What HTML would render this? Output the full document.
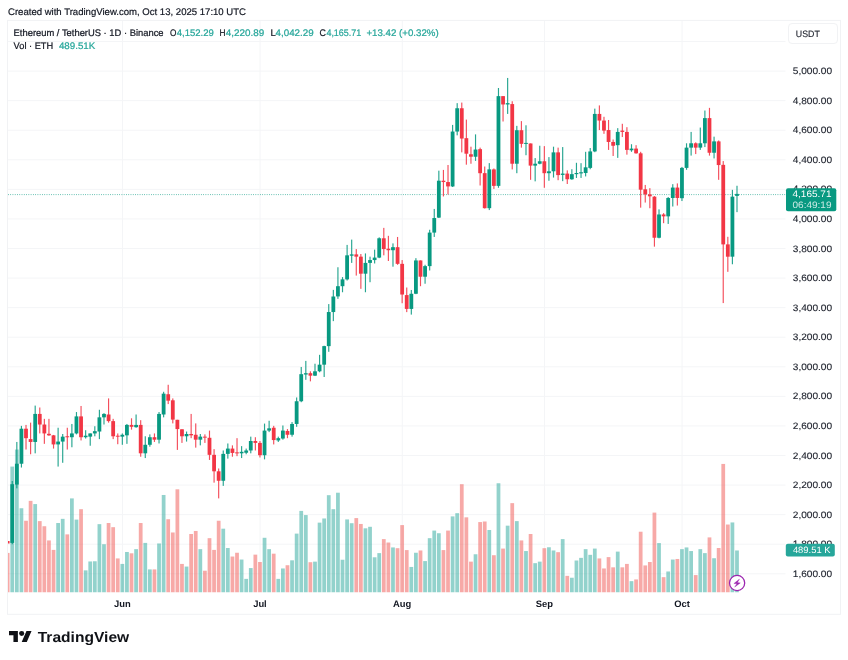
<!DOCTYPE html>
<html lang="en"><head><meta charset="utf-8"><title>ETHUSDT chart</title>
<style>html,body{margin:0;padding:0;background:#fff}body{width:848px;height:660px;overflow:hidden}svg{display:block;will-change:transform;opacity:0.9999}text{text-rendering:geometricPrecision}text{font-family:"Liberation Sans",Arial,sans-serif}</style></head><body>
<svg width="848" height="660" viewBox="0 0 848 660">
<rect width="848" height="660" fill="#fff"/>
<defs><clipPath id="pane"><rect x="8" y="21" width="777.5" height="571.5"/></clipPath></defs>
<rect x="7.5" y="20.4" width="833" height="593.9" fill="none" stroke="#f1f2f4" stroke-width="1"/>
<g stroke="#f4f5f7" stroke-width="1">
<line x1="8" x2="785.5" y1="41.53" y2="41.53"/>
<line x1="8" x2="785.5" y1="71.10" y2="71.10"/>
<line x1="8" x2="785.5" y1="100.67" y2="100.67"/>
<line x1="8" x2="785.5" y1="130.24" y2="130.24"/>
<line x1="8" x2="785.5" y1="159.81" y2="159.81"/>
<line x1="8" x2="785.5" y1="189.38" y2="189.38"/>
<line x1="8" x2="785.5" y1="218.95" y2="218.95"/>
<line x1="8" x2="785.5" y1="248.52" y2="248.52"/>
<line x1="8" x2="785.5" y1="278.09" y2="278.09"/>
<line x1="8" x2="785.5" y1="307.66" y2="307.66"/>
<line x1="8" x2="785.5" y1="337.23" y2="337.23"/>
<line x1="8" x2="785.5" y1="366.80" y2="366.80"/>
<line x1="8" x2="785.5" y1="396.37" y2="396.37"/>
<line x1="8" x2="785.5" y1="425.94" y2="425.94"/>
<line x1="8" x2="785.5" y1="455.51" y2="455.51"/>
<line x1="8" x2="785.5" y1="485.08" y2="485.08"/>
<line x1="8" x2="785.5" y1="514.65" y2="514.65"/>
<line x1="8" x2="785.5" y1="544.22" y2="544.22"/>
<line x1="8" x2="785.5" y1="573.79" y2="573.79"/>
<line x1="122.44" x2="122.44" y1="21" y2="592"/>
<line x1="260.05" x2="260.05" y1="21" y2="592"/>
<line x1="402.25" x2="402.25" y1="21" y2="592"/>
<line x1="544.44" x2="544.44" y1="21" y2="592"/>
<line x1="682.05" x2="682.05" y1="21" y2="592"/>
</g>
<g clip-path="url(#pane)">
<rect x="5.79" y="552.93" width="3.75" height="39.57" fill="#ef5350" fill-opacity="0.5"/>
<rect x="10.38" y="466.59" width="3.75" height="125.91" fill="#26a69a" fill-opacity="0.5"/>
<rect x="14.96" y="449.55" width="3.75" height="142.95" fill="#26a69a" fill-opacity="0.5"/>
<rect x="19.55" y="508.25" width="3.75" height="84.25" fill="#26a69a" fill-opacity="0.5"/>
<rect x="24.14" y="520.75" width="3.75" height="71.75" fill="#ef5350" fill-opacity="0.5"/>
<rect x="28.72" y="500.86" width="3.75" height="91.64" fill="#ef5350" fill-opacity="0.5"/>
<rect x="33.31" y="504.08" width="3.75" height="88.42" fill="#26a69a" fill-opacity="0.5"/>
<rect x="37.90" y="521.12" width="3.75" height="71.38" fill="#ef5350" fill-opacity="0.5"/>
<rect x="42.48" y="526.24" width="3.75" height="66.26" fill="#ef5350" fill-opacity="0.5"/>
<rect x="47.07" y="540.44" width="3.75" height="52.06" fill="#ef5350" fill-opacity="0.5"/>
<rect x="51.66" y="549.91" width="3.75" height="42.59" fill="#ef5350" fill-opacity="0.5"/>
<rect x="56.24" y="523.02" width="3.75" height="69.48" fill="#26a69a" fill-opacity="0.5"/>
<rect x="60.83" y="518.85" width="3.75" height="73.65" fill="#26a69a" fill-opacity="0.5"/>
<rect x="65.42" y="534.38" width="3.75" height="58.12" fill="#ef5350" fill-opacity="0.5"/>
<rect x="70.01" y="498.40" width="3.75" height="94.10" fill="#26a69a" fill-opacity="0.5"/>
<rect x="74.59" y="519.61" width="3.75" height="72.89" fill="#26a69a" fill-opacity="0.5"/>
<rect x="79.18" y="509.20" width="3.75" height="83.30" fill="#ef5350" fill-opacity="0.5"/>
<rect x="83.77" y="570.36" width="3.75" height="22.14" fill="#26a69a" fill-opacity="0.5"/>
<rect x="88.35" y="561.46" width="3.75" height="31.04" fill="#26a69a" fill-opacity="0.5"/>
<rect x="92.94" y="561.27" width="3.75" height="31.23" fill="#26a69a" fill-opacity="0.5"/>
<rect x="97.53" y="524.15" width="3.75" height="68.35" fill="#26a69a" fill-opacity="0.5"/>
<rect x="102.11" y="544.22" width="3.75" height="48.28" fill="#26a69a" fill-opacity="0.5"/>
<rect x="106.70" y="523.02" width="3.75" height="69.48" fill="#ef5350" fill-opacity="0.5"/>
<rect x="111.29" y="527.18" width="3.75" height="65.32" fill="#ef5350" fill-opacity="0.5"/>
<rect x="115.88" y="558.43" width="3.75" height="34.07" fill="#ef5350" fill-opacity="0.5"/>
<rect x="120.46" y="563.92" width="3.75" height="28.58" fill="#26a69a" fill-opacity="0.5"/>
<rect x="125.05" y="551.99" width="3.75" height="40.51" fill="#26a69a" fill-opacity="0.5"/>
<rect x="129.64" y="553.31" width="3.75" height="39.19" fill="#ef5350" fill-opacity="0.5"/>
<rect x="134.22" y="549.15" width="3.75" height="43.35" fill="#26a69a" fill-opacity="0.5"/>
<rect x="138.81" y="523.02" width="3.75" height="69.48" fill="#ef5350" fill-opacity="0.5"/>
<rect x="143.40" y="542.90" width="3.75" height="49.60" fill="#26a69a" fill-opacity="0.5"/>
<rect x="147.98" y="569.41" width="3.75" height="23.09" fill="#26a69a" fill-opacity="0.5"/>
<rect x="152.57" y="569.41" width="3.75" height="23.09" fill="#ef5350" fill-opacity="0.5"/>
<rect x="157.16" y="543.47" width="3.75" height="49.03" fill="#26a69a" fill-opacity="0.5"/>
<rect x="161.75" y="494.99" width="3.75" height="97.51" fill="#26a69a" fill-opacity="0.5"/>
<rect x="166.33" y="519.23" width="3.75" height="73.27" fill="#ef5350" fill-opacity="0.5"/>
<rect x="170.92" y="532.49" width="3.75" height="60.01" fill="#ef5350" fill-opacity="0.5"/>
<rect x="175.51" y="489.31" width="3.75" height="103.19" fill="#ef5350" fill-opacity="0.5"/>
<rect x="180.09" y="563.92" width="3.75" height="28.58" fill="#ef5350" fill-opacity="0.5"/>
<rect x="184.68" y="566.57" width="3.75" height="25.93" fill="#26a69a" fill-opacity="0.5"/>
<rect x="189.27" y="534.00" width="3.75" height="58.50" fill="#ef5350" fill-opacity="0.5"/>
<rect x="193.85" y="530.97" width="3.75" height="61.53" fill="#ef5350" fill-opacity="0.5"/>
<rect x="198.44" y="549.15" width="3.75" height="43.35" fill="#26a69a" fill-opacity="0.5"/>
<rect x="203.03" y="570.73" width="3.75" height="21.77" fill="#ef5350" fill-opacity="0.5"/>
<rect x="207.62" y="538.17" width="3.75" height="54.33" fill="#ef5350" fill-opacity="0.5"/>
<rect x="212.20" y="549.91" width="3.75" height="42.59" fill="#ef5350" fill-opacity="0.5"/>
<rect x="216.79" y="520.75" width="3.75" height="71.75" fill="#ef5350" fill-opacity="0.5"/>
<rect x="221.38" y="528.70" width="3.75" height="63.80" fill="#26a69a" fill-opacity="0.5"/>
<rect x="225.96" y="548.01" width="3.75" height="44.49" fill="#26a69a" fill-opacity="0.5"/>
<rect x="230.55" y="556.53" width="3.75" height="35.97" fill="#ef5350" fill-opacity="0.5"/>
<rect x="235.14" y="552.75" width="3.75" height="39.75" fill="#ef5350" fill-opacity="0.5"/>
<rect x="239.72" y="559.56" width="3.75" height="32.94" fill="#26a69a" fill-opacity="0.5"/>
<rect x="244.31" y="578.88" width="3.75" height="13.62" fill="#26a69a" fill-opacity="0.5"/>
<rect x="248.90" y="568.08" width="3.75" height="24.42" fill="#26a69a" fill-opacity="0.5"/>
<rect x="253.49" y="554.64" width="3.75" height="37.86" fill="#ef5350" fill-opacity="0.5"/>
<rect x="258.07" y="562.02" width="3.75" height="30.48" fill="#ef5350" fill-opacity="0.5"/>
<rect x="262.66" y="537.79" width="3.75" height="54.71" fill="#26a69a" fill-opacity="0.5"/>
<rect x="267.25" y="549.15" width="3.75" height="43.35" fill="#26a69a" fill-opacity="0.5"/>
<rect x="271.83" y="553.69" width="3.75" height="38.81" fill="#ef5350" fill-opacity="0.5"/>
<rect x="276.42" y="578.88" width="3.75" height="13.62" fill="#26a69a" fill-opacity="0.5"/>
<rect x="281.01" y="568.46" width="3.75" height="24.04" fill="#26a69a" fill-opacity="0.5"/>
<rect x="285.59" y="565.24" width="3.75" height="27.26" fill="#ef5350" fill-opacity="0.5"/>
<rect x="290.18" y="560.32" width="3.75" height="32.18" fill="#26a69a" fill-opacity="0.5"/>
<rect x="294.77" y="533.62" width="3.75" height="58.88" fill="#26a69a" fill-opacity="0.5"/>
<rect x="299.36" y="510.90" width="3.75" height="81.60" fill="#26a69a" fill-opacity="0.5"/>
<rect x="303.94" y="515.07" width="3.75" height="77.43" fill="#26a69a" fill-opacity="0.5"/>
<rect x="308.53" y="562.21" width="3.75" height="30.29" fill="#ef5350" fill-opacity="0.5"/>
<rect x="313.12" y="561.64" width="3.75" height="30.86" fill="#26a69a" fill-opacity="0.5"/>
<rect x="317.70" y="522.64" width="3.75" height="69.86" fill="#26a69a" fill-opacity="0.5"/>
<rect x="322.29" y="518.47" width="3.75" height="74.03" fill="#26a69a" fill-opacity="0.5"/>
<rect x="326.88" y="495.18" width="3.75" height="97.32" fill="#26a69a" fill-opacity="0.5"/>
<rect x="331.46" y="509.20" width="3.75" height="83.30" fill="#26a69a" fill-opacity="0.5"/>
<rect x="336.05" y="492.72" width="3.75" height="99.78" fill="#26a69a" fill-opacity="0.5"/>
<rect x="340.64" y="559.75" width="3.75" height="32.75" fill="#26a69a" fill-opacity="0.5"/>
<rect x="345.23" y="519.42" width="3.75" height="73.08" fill="#26a69a" fill-opacity="0.5"/>
<rect x="349.81" y="523.21" width="3.75" height="69.29" fill="#26a69a" fill-opacity="0.5"/>
<rect x="354.40" y="518.09" width="3.75" height="74.41" fill="#ef5350" fill-opacity="0.5"/>
<rect x="358.99" y="523.96" width="3.75" height="68.54" fill="#ef5350" fill-opacity="0.5"/>
<rect x="363.57" y="528.32" width="3.75" height="64.18" fill="#26a69a" fill-opacity="0.5"/>
<rect x="368.16" y="526.80" width="3.75" height="65.70" fill="#26a69a" fill-opacity="0.5"/>
<rect x="372.75" y="557.29" width="3.75" height="35.21" fill="#26a69a" fill-opacity="0.5"/>
<rect x="377.33" y="553.12" width="3.75" height="39.38" fill="#26a69a" fill-opacity="0.5"/>
<rect x="381.92" y="539.11" width="3.75" height="53.39" fill="#ef5350" fill-opacity="0.5"/>
<rect x="386.51" y="542.52" width="3.75" height="49.98" fill="#ef5350" fill-opacity="0.5"/>
<rect x="391.10" y="547.44" width="3.75" height="45.06" fill="#26a69a" fill-opacity="0.5"/>
<rect x="395.68" y="548.20" width="3.75" height="44.30" fill="#ef5350" fill-opacity="0.5"/>
<rect x="400.27" y="525.10" width="3.75" height="67.40" fill="#ef5350" fill-opacity="0.5"/>
<rect x="404.86" y="550.09" width="3.75" height="42.41" fill="#ef5350" fill-opacity="0.5"/>
<rect x="409.44" y="566.95" width="3.75" height="25.55" fill="#26a69a" fill-opacity="0.5"/>
<rect x="414.03" y="552.75" width="3.75" height="39.75" fill="#26a69a" fill-opacity="0.5"/>
<rect x="418.62" y="550.47" width="3.75" height="42.03" fill="#ef5350" fill-opacity="0.5"/>
<rect x="423.20" y="561.08" width="3.75" height="31.42" fill="#26a69a" fill-opacity="0.5"/>
<rect x="427.79" y="538.17" width="3.75" height="54.33" fill="#26a69a" fill-opacity="0.5"/>
<rect x="432.38" y="530.59" width="3.75" height="61.91" fill="#26a69a" fill-opacity="0.5"/>
<rect x="436.97" y="533.24" width="3.75" height="59.26" fill="#26a69a" fill-opacity="0.5"/>
<rect x="441.55" y="550.09" width="3.75" height="42.41" fill="#ef5350" fill-opacity="0.5"/>
<rect x="446.14" y="530.59" width="3.75" height="61.91" fill="#ef5350" fill-opacity="0.5"/>
<rect x="450.73" y="516.39" width="3.75" height="76.11" fill="#26a69a" fill-opacity="0.5"/>
<rect x="455.31" y="513.17" width="3.75" height="79.33" fill="#26a69a" fill-opacity="0.5"/>
<rect x="459.90" y="484.20" width="3.75" height="108.30" fill="#ef5350" fill-opacity="0.5"/>
<rect x="464.49" y="517.34" width="3.75" height="75.16" fill="#ef5350" fill-opacity="0.5"/>
<rect x="469.07" y="561.64" width="3.75" height="30.86" fill="#ef5350" fill-opacity="0.5"/>
<rect x="473.66" y="554.26" width="3.75" height="38.24" fill="#26a69a" fill-opacity="0.5"/>
<rect x="478.25" y="522.07" width="3.75" height="70.43" fill="#ef5350" fill-opacity="0.5"/>
<rect x="482.84" y="521.50" width="3.75" height="71.00" fill="#ef5350" fill-opacity="0.5"/>
<rect x="487.42" y="530.02" width="3.75" height="62.48" fill="#26a69a" fill-opacity="0.5"/>
<rect x="492.01" y="555.21" width="3.75" height="37.29" fill="#ef5350" fill-opacity="0.5"/>
<rect x="496.60" y="483.25" width="3.75" height="109.25" fill="#26a69a" fill-opacity="0.5"/>
<rect x="501.18" y="548.58" width="3.75" height="43.92" fill="#ef5350" fill-opacity="0.5"/>
<rect x="505.77" y="525.67" width="3.75" height="66.83" fill="#26a69a" fill-opacity="0.5"/>
<rect x="510.36" y="503.14" width="3.75" height="89.36" fill="#ef5350" fill-opacity="0.5"/>
<rect x="514.94" y="521.12" width="3.75" height="71.38" fill="#26a69a" fill-opacity="0.5"/>
<rect x="519.53" y="540.44" width="3.75" height="52.06" fill="#ef5350" fill-opacity="0.5"/>
<rect x="524.12" y="551.04" width="3.75" height="41.46" fill="#26a69a" fill-opacity="0.5"/>
<rect x="528.71" y="534.00" width="3.75" height="58.50" fill="#ef5350" fill-opacity="0.5"/>
<rect x="533.29" y="563.16" width="3.75" height="29.34" fill="#26a69a" fill-opacity="0.5"/>
<rect x="537.88" y="561.64" width="3.75" height="30.86" fill="#26a69a" fill-opacity="0.5"/>
<rect x="542.47" y="548.20" width="3.75" height="44.30" fill="#ef5350" fill-opacity="0.5"/>
<rect x="547.05" y="547.25" width="3.75" height="45.25" fill="#26a69a" fill-opacity="0.5"/>
<rect x="551.64" y="550.47" width="3.75" height="42.03" fill="#26a69a" fill-opacity="0.5"/>
<rect x="556.23" y="552.18" width="3.75" height="40.32" fill="#ef5350" fill-opacity="0.5"/>
<rect x="560.81" y="539.11" width="3.75" height="53.39" fill="#26a69a" fill-opacity="0.5"/>
<rect x="565.40" y="575.85" width="3.75" height="16.65" fill="#ef5350" fill-opacity="0.5"/>
<rect x="569.99" y="577.74" width="3.75" height="14.76" fill="#26a69a" fill-opacity="0.5"/>
<rect x="574.58" y="560.51" width="3.75" height="31.99" fill="#26a69a" fill-opacity="0.5"/>
<rect x="579.16" y="557.86" width="3.75" height="34.64" fill="#26a69a" fill-opacity="0.5"/>
<rect x="583.75" y="549.15" width="3.75" height="43.35" fill="#26a69a" fill-opacity="0.5"/>
<rect x="588.34" y="554.83" width="3.75" height="37.67" fill="#26a69a" fill-opacity="0.5"/>
<rect x="592.92" y="548.58" width="3.75" height="43.92" fill="#26a69a" fill-opacity="0.5"/>
<rect x="597.51" y="558.43" width="3.75" height="34.07" fill="#ef5350" fill-opacity="0.5"/>
<rect x="602.10" y="568.46" width="3.75" height="24.04" fill="#ef5350" fill-opacity="0.5"/>
<rect x="606.68" y="557.10" width="3.75" height="35.40" fill="#ef5350" fill-opacity="0.5"/>
<rect x="611.27" y="567.33" width="3.75" height="25.17" fill="#ef5350" fill-opacity="0.5"/>
<rect x="615.86" y="551.61" width="3.75" height="40.89" fill="#26a69a" fill-opacity="0.5"/>
<rect x="620.45" y="567.33" width="3.75" height="25.17" fill="#ef5350" fill-opacity="0.5"/>
<rect x="625.03" y="563.92" width="3.75" height="28.58" fill="#ef5350" fill-opacity="0.5"/>
<rect x="629.62" y="581.15" width="3.75" height="11.35" fill="#26a69a" fill-opacity="0.5"/>
<rect x="634.21" y="579.44" width="3.75" height="13.06" fill="#ef5350" fill-opacity="0.5"/>
<rect x="638.79" y="531.73" width="3.75" height="60.77" fill="#ef5350" fill-opacity="0.5"/>
<rect x="643.38" y="565.43" width="3.75" height="27.07" fill="#ef5350" fill-opacity="0.5"/>
<rect x="647.97" y="562.02" width="3.75" height="30.48" fill="#ef5350" fill-opacity="0.5"/>
<rect x="652.55" y="512.60" width="3.75" height="79.90" fill="#ef5350" fill-opacity="0.5"/>
<rect x="657.14" y="543.09" width="3.75" height="49.41" fill="#26a69a" fill-opacity="0.5"/>
<rect x="661.73" y="577.17" width="3.75" height="15.33" fill="#ef5350" fill-opacity="0.5"/>
<rect x="666.32" y="571.49" width="3.75" height="21.01" fill="#26a69a" fill-opacity="0.5"/>
<rect x="670.90" y="559.56" width="3.75" height="32.94" fill="#26a69a" fill-opacity="0.5"/>
<rect x="675.49" y="558.99" width="3.75" height="33.51" fill="#ef5350" fill-opacity="0.5"/>
<rect x="680.08" y="549.15" width="3.75" height="43.35" fill="#26a69a" fill-opacity="0.5"/>
<rect x="684.66" y="547.44" width="3.75" height="45.06" fill="#26a69a" fill-opacity="0.5"/>
<rect x="689.25" y="551.04" width="3.75" height="41.46" fill="#26a69a" fill-opacity="0.5"/>
<rect x="693.84" y="575.09" width="3.75" height="17.41" fill="#ef5350" fill-opacity="0.5"/>
<rect x="698.42" y="549.15" width="3.75" height="43.35" fill="#26a69a" fill-opacity="0.5"/>
<rect x="703.01" y="553.12" width="3.75" height="39.38" fill="#26a69a" fill-opacity="0.5"/>
<rect x="707.60" y="537.41" width="3.75" height="55.09" fill="#ef5350" fill-opacity="0.5"/>
<rect x="712.19" y="558.24" width="3.75" height="34.26" fill="#26a69a" fill-opacity="0.5"/>
<rect x="716.77" y="548.01" width="3.75" height="44.49" fill="#ef5350" fill-opacity="0.5"/>
<rect x="721.36" y="463.94" width="3.75" height="128.56" fill="#ef5350" fill-opacity="0.5"/>
<rect x="725.95" y="524.53" width="3.75" height="67.97" fill="#ef5350" fill-opacity="0.5"/>
<rect x="730.53" y="522.45" width="3.75" height="70.05" fill="#26a69a" fill-opacity="0.5"/>
<rect x="735.12" y="550.47" width="3.75" height="42.03" fill="#26a69a" fill-opacity="0.5"/>
</g>
<line x1="8" x2="785.5" y1="194.60" y2="194.60" stroke="#089981" stroke-width="1" stroke-dasharray="0.8 1.47" opacity="0.75"/>
<g clip-path="url(#pane)">
<rect x="5.76" y="541" width="3.8" height="2.5" fill="#f23645"/>
<rect x="11.68" y="480.98" width="1.15" height="63.24" fill="#089981" fill-opacity="0.88"/>
<rect x="10.35" y="484.20" width="3.8" height="58.70" fill="#089981"/>
<rect x="16.26" y="441.95" width="1.15" height="46.39" fill="#089981" fill-opacity="0.88"/>
<rect x="14.94" y="463.73" width="3.8" height="20.83" fill="#089981"/>
<rect x="20.85" y="425.86" width="1.15" height="41.66" fill="#089981" fill-opacity="0.88"/>
<rect x="19.52" y="428.70" width="3.8" height="35.03" fill="#089981"/>
<rect x="25.44" y="424.91" width="1.15" height="24.62" fill="#f23645" fill-opacity="0.88"/>
<rect x="24.11" y="428.70" width="3.8" height="9.47" fill="#f23645"/>
<rect x="30.02" y="422.64" width="1.15" height="31.62" fill="#f23645" fill-opacity="0.88"/>
<rect x="28.70" y="439.11" width="3.8" height="2.84" fill="#f23645"/>
<rect x="34.61" y="405.60" width="1.15" height="47.72" fill="#089981" fill-opacity="0.88"/>
<rect x="33.29" y="413.93" width="3.8" height="28.02" fill="#089981"/>
<rect x="39.20" y="407.49" width="1.15" height="25.94" fill="#f23645" fill-opacity="0.88"/>
<rect x="37.87" y="413.93" width="3.8" height="10.60" fill="#f23645"/>
<rect x="43.78" y="418.85" width="1.15" height="24.99" fill="#f23645" fill-opacity="0.88"/>
<rect x="42.46" y="424.53" width="3.8" height="8.90" fill="#f23645"/>
<rect x="48.37" y="418.85" width="1.15" height="17.04" fill="#f23645" fill-opacity="0.88"/>
<rect x="47.05" y="433.81" width="3.8" height="1.51" fill="#f23645"/>
<rect x="52.96" y="434.95" width="1.15" height="13.63" fill="#f23645" fill-opacity="0.88"/>
<rect x="51.63" y="435.33" width="3.8" height="9.09" fill="#f23645"/>
<rect x="57.54" y="427.75" width="1.15" height="38.82" fill="#089981" fill-opacity="0.88"/>
<rect x="56.22" y="441.57" width="3.8" height="2.84" fill="#089981"/>
<rect x="62.13" y="434.00" width="1.15" height="28.78" fill="#089981" fill-opacity="0.88"/>
<rect x="60.81" y="436.65" width="3.8" height="4.92" fill="#089981"/>
<rect x="66.72" y="427.75" width="1.15" height="21.78" fill="#f23645" fill-opacity="0.88"/>
<rect x="65.39" y="436.27" width="3.8" height="1.00" fill="#f23645"/>
<rect x="71.31" y="423.96" width="1.15" height="23.29" fill="#089981" fill-opacity="0.88"/>
<rect x="69.98" y="433.43" width="3.8" height="3.79" fill="#089981"/>
<rect x="75.89" y="412.04" width="1.15" height="22.34" fill="#089981" fill-opacity="0.88"/>
<rect x="74.57" y="416.39" width="3.8" height="17.04" fill="#089981"/>
<rect x="80.48" y="405.98" width="1.15" height="34.46" fill="#f23645" fill-opacity="0.88"/>
<rect x="79.15" y="416.39" width="3.8" height="20.83" fill="#f23645"/>
<rect x="85.07" y="430.21" width="1.15" height="8.33" fill="#089981" fill-opacity="0.88"/>
<rect x="83.74" y="435.70" width="3.8" height="1.51" fill="#089981"/>
<rect x="89.65" y="433.43" width="1.15" height="12.31" fill="#089981" fill-opacity="0.88"/>
<rect x="88.33" y="433.43" width="3.8" height="3.22" fill="#089981"/>
<rect x="94.24" y="426.24" width="1.15" height="10.04" fill="#089981" fill-opacity="0.88"/>
<rect x="92.92" y="431.16" width="3.8" height="2.27" fill="#089981"/>
<rect x="98.83" y="409.76" width="1.15" height="29.35" fill="#089981" fill-opacity="0.88"/>
<rect x="97.50" y="417.34" width="3.8" height="14.20" fill="#089981"/>
<rect x="103.41" y="413.17" width="1.15" height="11.36" fill="#089981" fill-opacity="0.88"/>
<rect x="102.09" y="413.93" width="3.8" height="3.41" fill="#089981"/>
<rect x="108.00" y="398.40" width="1.15" height="24.24" fill="#f23645" fill-opacity="0.88"/>
<rect x="106.68" y="414.50" width="3.8" height="6.63" fill="#f23645"/>
<rect x="112.59" y="418.85" width="1.15" height="20.26" fill="#f23645" fill-opacity="0.88"/>
<rect x="111.26" y="421.12" width="3.8" height="15.15" fill="#f23645"/>
<rect x="117.18" y="433.43" width="1.15" height="10.79" fill="#f23645" fill-opacity="0.88"/>
<rect x="115.85" y="435.70" width="3.8" height="1.00" fill="#f23645"/>
<rect x="121.76" y="433.43" width="1.15" height="11.36" fill="#089981" fill-opacity="0.88"/>
<rect x="120.44" y="434.76" width="3.8" height="1.89" fill="#089981"/>
<rect x="126.35" y="423.96" width="1.15" height="19.88" fill="#089981" fill-opacity="0.88"/>
<rect x="125.02" y="424.91" width="3.8" height="10.41" fill="#089981"/>
<rect x="130.94" y="418.28" width="1.15" height="11.36" fill="#f23645" fill-opacity="0.88"/>
<rect x="129.61" y="424.91" width="3.8" height="1.89" fill="#f23645"/>
<rect x="135.52" y="414.50" width="1.15" height="13.25" fill="#089981" fill-opacity="0.88"/>
<rect x="134.20" y="424.91" width="3.8" height="2.27" fill="#089981"/>
<rect x="140.11" y="420.18" width="1.15" height="36.54" fill="#f23645" fill-opacity="0.88"/>
<rect x="138.79" y="424.91" width="3.8" height="28.40" fill="#f23645"/>
<rect x="144.70" y="436.27" width="1.15" height="21.78" fill="#089981" fill-opacity="0.88"/>
<rect x="143.37" y="444.79" width="3.8" height="8.52" fill="#089981"/>
<rect x="149.28" y="434.38" width="1.15" height="12.31" fill="#089981" fill-opacity="0.88"/>
<rect x="147.96" y="437.22" width="3.8" height="7.57" fill="#089981"/>
<rect x="153.87" y="433.43" width="1.15" height="8.52" fill="#f23645" fill-opacity="0.88"/>
<rect x="152.55" y="437.22" width="3.8" height="2.46" fill="#f23645"/>
<rect x="158.46" y="412.04" width="1.15" height="31.43" fill="#089981" fill-opacity="0.88"/>
<rect x="157.13" y="413.93" width="3.8" height="25.75" fill="#089981"/>
<rect x="163.05" y="391.78" width="1.15" height="25.56" fill="#089981" fill-opacity="0.88"/>
<rect x="161.72" y="393.67" width="3.8" height="20.83" fill="#089981"/>
<rect x="167.63" y="384.77" width="1.15" height="19.31" fill="#f23645" fill-opacity="0.88"/>
<rect x="166.31" y="394.24" width="3.8" height="6.44" fill="#f23645"/>
<rect x="172.22" y="398.40" width="1.15" height="24.99" fill="#f23645" fill-opacity="0.88"/>
<rect x="170.89" y="400.30" width="3.8" height="19.31" fill="#f23645"/>
<rect x="176.81" y="419.80" width="1.15" height="30.11" fill="#f23645" fill-opacity="0.88"/>
<rect x="175.48" y="419.80" width="3.8" height="9.28" fill="#f23645"/>
<rect x="181.39" y="429.27" width="1.15" height="13.63" fill="#f23645" fill-opacity="0.88"/>
<rect x="180.07" y="429.27" width="3.8" height="7.01" fill="#f23645"/>
<rect x="185.98" y="431.54" width="1.15" height="10.04" fill="#089981" fill-opacity="0.88"/>
<rect x="184.66" y="434.00" width="3.8" height="2.27" fill="#089981"/>
<rect x="190.57" y="413.93" width="1.15" height="24.24" fill="#f23645" fill-opacity="0.88"/>
<rect x="189.24" y="434.00" width="3.8" height="1.33" fill="#f23645"/>
<rect x="195.16" y="423.40" width="1.15" height="24.24" fill="#f23645" fill-opacity="0.88"/>
<rect x="193.83" y="434.76" width="3.8" height="4.92" fill="#f23645"/>
<rect x="199.74" y="434.00" width="1.15" height="11.36" fill="#089981" fill-opacity="0.88"/>
<rect x="198.42" y="436.65" width="3.8" height="3.03" fill="#089981"/>
<rect x="204.33" y="434.38" width="1.15" height="8.52" fill="#f23645" fill-opacity="0.88"/>
<rect x="203.00" y="436.65" width="3.8" height="1.00" fill="#f23645"/>
<rect x="208.92" y="430.59" width="1.15" height="29.35" fill="#f23645" fill-opacity="0.88"/>
<rect x="207.59" y="437.79" width="3.8" height="17.04" fill="#f23645"/>
<rect x="213.50" y="449.15" width="1.15" height="33.51" fill="#f23645" fill-opacity="0.88"/>
<rect x="212.18" y="454.83" width="3.8" height="16.47" fill="#f23645"/>
<rect x="218.09" y="468.46" width="1.15" height="29.92" fill="#f23645" fill-opacity="0.88"/>
<rect x="216.76" y="471.30" width="3.8" height="9.47" fill="#f23645"/>
<rect x="222.68" y="450.47" width="1.15" height="35.41" fill="#089981" fill-opacity="0.88"/>
<rect x="221.35" y="453.88" width="3.8" height="26.89" fill="#089981"/>
<rect x="227.26" y="443.47" width="1.15" height="15.15" fill="#089981" fill-opacity="0.88"/>
<rect x="225.94" y="448.58" width="3.8" height="5.30" fill="#089981"/>
<rect x="231.85" y="445.36" width="1.15" height="11.36" fill="#f23645" fill-opacity="0.88"/>
<rect x="230.53" y="448.58" width="3.8" height="4.36" fill="#f23645"/>
<rect x="236.44" y="438.17" width="1.15" height="17.99" fill="#f23645" fill-opacity="0.88"/>
<rect x="235.11" y="452.37" width="3.8" height="1.00" fill="#f23645"/>
<rect x="241.03" y="446.12" width="1.15" height="11.93" fill="#089981" fill-opacity="0.88"/>
<rect x="239.70" y="451.80" width="3.8" height="1.51" fill="#089981"/>
<rect x="245.61" y="448.58" width="1.15" height="5.68" fill="#089981" fill-opacity="0.88"/>
<rect x="244.29" y="450.47" width="3.8" height="2.27" fill="#089981"/>
<rect x="250.20" y="436.65" width="1.15" height="16.66" fill="#089981" fill-opacity="0.88"/>
<rect x="248.87" y="441.01" width="3.8" height="9.47" fill="#089981"/>
<rect x="254.79" y="437.22" width="1.15" height="13.25" fill="#f23645" fill-opacity="0.88"/>
<rect x="253.46" y="441.01" width="3.8" height="1.89" fill="#f23645"/>
<rect x="259.37" y="441.01" width="1.15" height="16.47" fill="#f23645" fill-opacity="0.88"/>
<rect x="258.05" y="442.90" width="3.8" height="12.31" fill="#f23645"/>
<rect x="263.96" y="423.59" width="1.15" height="35.79" fill="#089981" fill-opacity="0.88"/>
<rect x="262.63" y="430.59" width="3.8" height="24.62" fill="#089981"/>
<rect x="268.55" y="420.75" width="1.15" height="11.36" fill="#089981" fill-opacity="0.88"/>
<rect x="267.22" y="428.32" width="3.8" height="2.27" fill="#089981"/>
<rect x="273.13" y="425.86" width="1.15" height="18.56" fill="#f23645" fill-opacity="0.88"/>
<rect x="271.81" y="427.75" width="3.8" height="12.31" fill="#f23645"/>
<rect x="277.72" y="436.65" width="1.15" height="5.30" fill="#089981" fill-opacity="0.88"/>
<rect x="276.40" y="438.17" width="3.8" height="2.27" fill="#089981"/>
<rect x="282.31" y="425.48" width="1.15" height="14.20" fill="#089981" fill-opacity="0.88"/>
<rect x="280.98" y="430.59" width="3.8" height="7.95" fill="#089981"/>
<rect x="286.89" y="429.08" width="1.15" height="9.09" fill="#f23645" fill-opacity="0.88"/>
<rect x="285.57" y="430.97" width="3.8" height="3.79" fill="#f23645"/>
<rect x="291.48" y="422.07" width="1.15" height="14.58" fill="#089981" fill-opacity="0.88"/>
<rect x="290.16" y="423.96" width="3.8" height="10.79" fill="#089981"/>
<rect x="296.07" y="397.46" width="1.15" height="29.35" fill="#089981" fill-opacity="0.88"/>
<rect x="294.74" y="401.24" width="3.8" height="22.72" fill="#089981"/>
<rect x="300.66" y="366.97" width="1.15" height="35.22" fill="#089981" fill-opacity="0.88"/>
<rect x="299.33" y="374.17" width="3.8" height="27.08" fill="#089981"/>
<rect x="305.24" y="360.89" width="1.15" height="18.93" fill="#089981" fill-opacity="0.88"/>
<rect x="303.92" y="373.20" width="3.8" height="1.33" fill="#089981"/>
<rect x="309.83" y="371.30" width="1.15" height="10.04" fill="#f23645" fill-opacity="0.88"/>
<rect x="308.50" y="373.20" width="3.8" height="2.46" fill="#f23645"/>
<rect x="314.42" y="363.73" width="1.15" height="12.31" fill="#089981" fill-opacity="0.88"/>
<rect x="313.09" y="371.30" width="3.8" height="4.36" fill="#089981"/>
<rect x="319.00" y="354.83" width="1.15" height="17.42" fill="#089981" fill-opacity="0.88"/>
<rect x="317.68" y="364.67" width="3.8" height="6.63" fill="#089981"/>
<rect x="323.59" y="345.74" width="1.15" height="31.24" fill="#089981" fill-opacity="0.88"/>
<rect x="322.27" y="346.12" width="3.8" height="18.56" fill="#089981"/>
<rect x="328.18" y="304.08" width="1.15" height="47.72" fill="#089981" fill-opacity="0.88"/>
<rect x="326.85" y="312.04" width="3.8" height="34.08" fill="#089981"/>
<rect x="332.76" y="289.88" width="1.15" height="31.24" fill="#089981" fill-opacity="0.88"/>
<rect x="331.44" y="296.51" width="3.8" height="15.53" fill="#089981"/>
<rect x="337.35" y="267.25" width="1.15" height="31.62" fill="#089981" fill-opacity="0.88"/>
<rect x="336.03" y="286.19" width="3.8" height="10.22" fill="#089981"/>
<rect x="341.94" y="277.10" width="1.15" height="15.15" fill="#089981" fill-opacity="0.88"/>
<rect x="340.61" y="279.37" width="3.8" height="6.82" fill="#089981"/>
<rect x="346.53" y="244.91" width="1.15" height="35.60" fill="#089981" fill-opacity="0.88"/>
<rect x="345.20" y="255.33" width="3.8" height="24.05" fill="#089981"/>
<rect x="351.11" y="239.61" width="1.15" height="23.29" fill="#089981" fill-opacity="0.88"/>
<rect x="349.79" y="254.38" width="3.8" height="1.33" fill="#089981"/>
<rect x="355.70" y="249.08" width="1.15" height="26.51" fill="#f23645" fill-opacity="0.88"/>
<rect x="354.38" y="254.38" width="3.8" height="2.27" fill="#f23645"/>
<rect x="360.29" y="254.00" width="1.15" height="34.84" fill="#f23645" fill-opacity="0.88"/>
<rect x="358.96" y="256.65" width="3.8" height="17.04" fill="#f23645"/>
<rect x="364.87" y="253.43" width="1.15" height="38.82" fill="#089981" fill-opacity="0.88"/>
<rect x="363.55" y="262.90" width="3.8" height="10.79" fill="#089981"/>
<rect x="369.46" y="256.65" width="1.15" height="25.56" fill="#089981" fill-opacity="0.88"/>
<rect x="368.14" y="260.06" width="3.8" height="2.84" fill="#089981"/>
<rect x="374.05" y="249.64" width="1.15" height="13.82" fill="#089981" fill-opacity="0.88"/>
<rect x="372.72" y="257.60" width="3.8" height="2.46" fill="#089981"/>
<rect x="378.63" y="237.34" width="1.15" height="20.83" fill="#089981" fill-opacity="0.88"/>
<rect x="377.31" y="238.28" width="3.8" height="19.31" fill="#089981"/>
<rect x="383.22" y="227.87" width="1.15" height="27.46" fill="#f23645" fill-opacity="0.88"/>
<rect x="381.90" y="238.28" width="3.8" height="10.79" fill="#f23645"/>
<rect x="387.81" y="235.82" width="1.15" height="25.18" fill="#f23645" fill-opacity="0.88"/>
<rect x="386.48" y="248.70" width="3.8" height="1.51" fill="#f23645"/>
<rect x="392.40" y="243.40" width="1.15" height="23.29" fill="#089981" fill-opacity="0.88"/>
<rect x="391.07" y="247.18" width="3.8" height="3.03" fill="#089981"/>
<rect x="396.98" y="236.96" width="1.15" height="27.83" fill="#f23645" fill-opacity="0.88"/>
<rect x="395.66" y="247.18" width="3.8" height="16.66" fill="#f23645"/>
<rect x="401.57" y="260.06" width="1.15" height="43.17" fill="#f23645" fill-opacity="0.88"/>
<rect x="400.25" y="263.85" width="3.8" height="30.67" fill="#f23645"/>
<rect x="406.16" y="287.51" width="1.15" height="24.62" fill="#f23645" fill-opacity="0.88"/>
<rect x="404.83" y="295.09" width="3.8" height="13.82" fill="#f23645"/>
<rect x="410.74" y="289.98" width="1.15" height="24.62" fill="#089981" fill-opacity="0.88"/>
<rect x="409.42" y="293.76" width="3.8" height="15.15" fill="#089981"/>
<rect x="415.33" y="258.17" width="1.15" height="35.98" fill="#089981" fill-opacity="0.88"/>
<rect x="414.01" y="260.44" width="3.8" height="33.33" fill="#089981"/>
<rect x="419.92" y="260.44" width="1.15" height="25.75" fill="#f23645" fill-opacity="0.88"/>
<rect x="418.59" y="260.44" width="3.8" height="16.28" fill="#f23645"/>
<rect x="424.50" y="264.79" width="1.15" height="18.93" fill="#089981" fill-opacity="0.88"/>
<rect x="423.18" y="266.12" width="3.8" height="10.60" fill="#089981"/>
<rect x="429.09" y="229.76" width="1.15" height="40.71" fill="#089981" fill-opacity="0.88"/>
<rect x="427.77" y="232.60" width="3.8" height="33.51" fill="#089981"/>
<rect x="433.68" y="208.93" width="1.15" height="28.02" fill="#089981" fill-opacity="0.88"/>
<rect x="432.35" y="218.02" width="3.8" height="14.58" fill="#089981"/>
<rect x="438.27" y="170.67" width="1.15" height="47.34" fill="#089981" fill-opacity="0.88"/>
<rect x="436.94" y="180.71" width="3.8" height="36.92" fill="#089981"/>
<rect x="442.85" y="169.92" width="1.15" height="26.51" fill="#f23645" fill-opacity="0.88"/>
<rect x="441.53" y="180.71" width="3.8" height="1.33" fill="#f23645"/>
<rect x="447.44" y="164.99" width="1.15" height="29.54" fill="#f23645" fill-opacity="0.88"/>
<rect x="446.12" y="182.04" width="3.8" height="4.36" fill="#f23645"/>
<rect x="452.03" y="124.91" width="1.15" height="62.11" fill="#089981" fill-opacity="0.88"/>
<rect x="450.70" y="131.54" width="3.8" height="54.91" fill="#089981"/>
<rect x="456.61" y="103.14" width="1.15" height="32.19" fill="#089981" fill-opacity="0.88"/>
<rect x="455.29" y="108.25" width="3.8" height="23.29" fill="#089981"/>
<rect x="461.20" y="102.57" width="1.15" height="49.80" fill="#f23645" fill-opacity="0.88"/>
<rect x="459.88" y="108.25" width="3.8" height="30.30" fill="#f23645"/>
<rect x="465.79" y="119.61" width="1.15" height="45.07" fill="#f23645" fill-opacity="0.88"/>
<rect x="464.46" y="138.17" width="3.8" height="15.53" fill="#f23645"/>
<rect x="470.38" y="146.69" width="1.15" height="17.04" fill="#f23645" fill-opacity="0.88"/>
<rect x="469.05" y="154.26" width="3.8" height="2.46" fill="#f23645"/>
<rect x="474.96" y="134.38" width="1.15" height="26.51" fill="#089981" fill-opacity="0.88"/>
<rect x="473.64" y="149.53" width="3.8" height="7.20" fill="#089981"/>
<rect x="479.55" y="147.63" width="1.15" height="37.87" fill="#f23645" fill-opacity="0.88"/>
<rect x="478.22" y="149.15" width="3.8" height="24.05" fill="#f23645"/>
<rect x="484.14" y="166.51" width="1.15" height="42.04" fill="#f23645" fill-opacity="0.88"/>
<rect x="482.81" y="173.14" width="3.8" height="35.03" fill="#f23645"/>
<rect x="488.72" y="163.10" width="1.15" height="46.96" fill="#089981" fill-opacity="0.88"/>
<rect x="487.40" y="169.35" width="3.8" height="38.82" fill="#089981"/>
<rect x="493.31" y="168.46" width="1.15" height="20.45" fill="#f23645" fill-opacity="0.88"/>
<rect x="491.99" y="169.41" width="3.8" height="16.47" fill="#f23645"/>
<rect x="497.90" y="87.99" width="1.15" height="99.79" fill="#089981" fill-opacity="0.88"/>
<rect x="496.57" y="96.13" width="3.8" height="89.75" fill="#089981"/>
<rect x="502.48" y="96.13" width="1.15" height="25.37" fill="#f23645" fill-opacity="0.88"/>
<rect x="501.16" y="96.13" width="3.8" height="8.33" fill="#f23645"/>
<rect x="507.07" y="77.95" width="1.15" height="35.98" fill="#089981" fill-opacity="0.88"/>
<rect x="505.75" y="103.14" width="3.8" height="1.33" fill="#089981"/>
<rect x="511.66" y="101.24" width="1.15" height="68.17" fill="#f23645" fill-opacity="0.88"/>
<rect x="510.33" y="104.08" width="3.8" height="59.64" fill="#f23645"/>
<rect x="516.24" y="125.86" width="1.15" height="47.34" fill="#089981" fill-opacity="0.88"/>
<rect x="514.92" y="130.21" width="3.8" height="33.51" fill="#089981"/>
<rect x="520.83" y="121.12" width="1.15" height="26.51" fill="#f23645" fill-opacity="0.88"/>
<rect x="519.51" y="130.21" width="3.8" height="13.63" fill="#f23645"/>
<rect x="525.42" y="125.29" width="1.15" height="29.92" fill="#089981" fill-opacity="0.88"/>
<rect x="524.09" y="142.90" width="3.8" height="1.00" fill="#089981"/>
<rect x="530.01" y="143.47" width="1.15" height="36.36" fill="#f23645" fill-opacity="0.88"/>
<rect x="528.68" y="143.47" width="3.8" height="22.15" fill="#f23645"/>
<rect x="534.59" y="158.05" width="1.15" height="23.29" fill="#089981" fill-opacity="0.88"/>
<rect x="533.27" y="163.73" width="3.8" height="1.89" fill="#089981"/>
<rect x="539.18" y="145.74" width="1.15" height="18.56" fill="#089981" fill-opacity="0.88"/>
<rect x="537.86" y="161.27" width="3.8" height="2.46" fill="#089981"/>
<rect x="543.77" y="146.12" width="1.15" height="41.66" fill="#f23645" fill-opacity="0.88"/>
<rect x="542.44" y="161.27" width="3.8" height="11.93" fill="#f23645"/>
<rect x="548.35" y="157.10" width="1.15" height="23.67" fill="#089981" fill-opacity="0.88"/>
<rect x="547.03" y="171.30" width="3.8" height="1.89" fill="#089981"/>
<rect x="552.94" y="146.69" width="1.15" height="30.86" fill="#089981" fill-opacity="0.88"/>
<rect x="551.62" y="152.37" width="3.8" height="18.93" fill="#089981"/>
<rect x="557.53" y="147.63" width="1.15" height="32.57" fill="#f23645" fill-opacity="0.88"/>
<rect x="556.20" y="152.37" width="3.8" height="22.72" fill="#f23645"/>
<rect x="562.11" y="147.07" width="1.15" height="34.08" fill="#089981" fill-opacity="0.88"/>
<rect x="560.79" y="173.58" width="3.8" height="1.33" fill="#089981"/>
<rect x="566.70" y="170.36" width="1.15" height="13.63" fill="#f23645" fill-opacity="0.88"/>
<rect x="565.38" y="173.58" width="3.8" height="5.68" fill="#f23645"/>
<rect x="571.29" y="169.22" width="1.15" height="10.60" fill="#089981" fill-opacity="0.88"/>
<rect x="569.96" y="174.15" width="3.8" height="5.11" fill="#089981"/>
<rect x="575.88" y="162.79" width="1.15" height="15.15" fill="#089981" fill-opacity="0.88"/>
<rect x="574.55" y="173.01" width="3.8" height="1.14" fill="#089981"/>
<rect x="580.46" y="163.17" width="1.15" height="14.77" fill="#089981" fill-opacity="0.88"/>
<rect x="579.14" y="172.25" width="3.8" height="1.14" fill="#089981"/>
<rect x="585.05" y="151.80" width="1.15" height="24.62" fill="#089981" fill-opacity="0.88"/>
<rect x="583.73" y="167.33" width="3.8" height="5.68" fill="#089981"/>
<rect x="589.64" y="148.02" width="1.15" height="21.21" fill="#089981" fill-opacity="0.88"/>
<rect x="588.31" y="151.43" width="3.8" height="16.47" fill="#089981"/>
<rect x="594.22" y="108.63" width="1.15" height="43.55" fill="#089981" fill-opacity="0.88"/>
<rect x="592.90" y="113.93" width="3.8" height="37.49" fill="#089981"/>
<rect x="598.81" y="105.41" width="1.15" height="24.62" fill="#f23645" fill-opacity="0.88"/>
<rect x="597.49" y="113.93" width="3.8" height="6.63" fill="#f23645"/>
<rect x="603.40" y="116.78" width="1.15" height="17.04" fill="#f23645" fill-opacity="0.88"/>
<rect x="602.07" y="120.56" width="3.8" height="10.04" fill="#f23645"/>
<rect x="607.98" y="119.99" width="1.15" height="29.92" fill="#f23645" fill-opacity="0.88"/>
<rect x="606.66" y="130.03" width="3.8" height="11.93" fill="#f23645"/>
<rect x="612.57" y="139.50" width="1.15" height="16.47" fill="#f23645" fill-opacity="0.88"/>
<rect x="611.25" y="141.96" width="3.8" height="3.79" fill="#f23645"/>
<rect x="617.16" y="128.14" width="1.15" height="29.73" fill="#089981" fill-opacity="0.88"/>
<rect x="615.83" y="131.92" width="3.8" height="13.25" fill="#089981"/>
<rect x="621.75" y="123.78" width="1.15" height="13.25" fill="#f23645" fill-opacity="0.88"/>
<rect x="620.42" y="130.60" width="3.8" height="1.33" fill="#f23645"/>
<rect x="626.33" y="127.19" width="1.15" height="27.46" fill="#f23645" fill-opacity="0.88"/>
<rect x="625.01" y="131.92" width="3.8" height="17.99" fill="#f23645"/>
<rect x="630.92" y="144.23" width="1.15" height="7.57" fill="#089981" fill-opacity="0.88"/>
<rect x="629.60" y="148.59" width="3.8" height="1.70" fill="#089981"/>
<rect x="635.51" y="145.18" width="1.15" height="8.52" fill="#f23645" fill-opacity="0.88"/>
<rect x="634.18" y="148.59" width="3.8" height="4.73" fill="#f23645"/>
<rect x="640.09" y="151.80" width="1.15" height="55.86" fill="#f23645" fill-opacity="0.88"/>
<rect x="638.77" y="153.32" width="3.8" height="36.36" fill="#f23645"/>
<rect x="644.68" y="184.94" width="1.15" height="17.61" fill="#f23645" fill-opacity="0.88"/>
<rect x="643.36" y="189.30" width="3.8" height="5.11" fill="#f23645"/>
<rect x="649.27" y="188.16" width="1.15" height="20.07" fill="#f23645" fill-opacity="0.88"/>
<rect x="647.94" y="194.41" width="3.8" height="1.89" fill="#f23645"/>
<rect x="653.85" y="196.09" width="1.15" height="50.56" fill="#f23645" fill-opacity="0.88"/>
<rect x="652.53" y="196.66" width="3.8" height="41.09" fill="#f23645"/>
<rect x="658.44" y="209.35" width="1.15" height="28.97" fill="#089981" fill-opacity="0.88"/>
<rect x="657.12" y="214.46" width="3.8" height="23.29" fill="#089981"/>
<rect x="663.03" y="213.14" width="1.15" height="10.04" fill="#f23645" fill-opacity="0.88"/>
<rect x="661.70" y="214.46" width="3.8" height="1.89" fill="#f23645"/>
<rect x="667.62" y="197.04" width="1.15" height="26.89" fill="#089981" fill-opacity="0.88"/>
<rect x="666.29" y="197.99" width="3.8" height="18.37" fill="#089981"/>
<rect x="672.20" y="184.17" width="1.15" height="22.34" fill="#089981" fill-opacity="0.88"/>
<rect x="670.88" y="187.57" width="3.8" height="10.41" fill="#089981"/>
<rect x="676.79" y="183.41" width="1.15" height="22.15" fill="#f23645" fill-opacity="0.88"/>
<rect x="675.47" y="187.57" width="3.8" height="10.41" fill="#f23645"/>
<rect x="681.38" y="166.95" width="1.15" height="34.08" fill="#089981" fill-opacity="0.88"/>
<rect x="680.05" y="167.90" width="3.8" height="30.30" fill="#089981"/>
<rect x="685.96" y="143.28" width="1.15" height="26.51" fill="#089981" fill-opacity="0.88"/>
<rect x="684.64" y="147.64" width="3.8" height="20.26" fill="#089981"/>
<rect x="690.55" y="131.92" width="1.15" height="23.67" fill="#089981" fill-opacity="0.88"/>
<rect x="689.23" y="143.28" width="3.8" height="4.36" fill="#089981"/>
<rect x="695.14" y="142.34" width="1.15" height="11.74" fill="#f23645" fill-opacity="0.88"/>
<rect x="693.81" y="143.28" width="3.8" height="4.36" fill="#f23645"/>
<rect x="699.72" y="127.57" width="1.15" height="22.34" fill="#089981" fill-opacity="0.88"/>
<rect x="698.40" y="143.28" width="3.8" height="4.36" fill="#089981"/>
<rect x="704.31" y="110.53" width="1.15" height="36.54" fill="#089981" fill-opacity="0.88"/>
<rect x="702.99" y="118.10" width="3.8" height="25.18" fill="#089981"/>
<rect x="708.90" y="107.88" width="1.15" height="47.72" fill="#f23645" fill-opacity="0.88"/>
<rect x="707.57" y="118.10" width="3.8" height="34.65" fill="#f23645"/>
<rect x="713.49" y="136.66" width="1.15" height="21.78" fill="#089981" fill-opacity="0.88"/>
<rect x="712.16" y="141.39" width="3.8" height="11.36" fill="#089981"/>
<rect x="718.07" y="140.44" width="1.15" height="39.38" fill="#f23645" fill-opacity="0.88"/>
<rect x="716.75" y="141.39" width="3.8" height="23.67" fill="#f23645"/>
<rect x="722.66" y="161.07" width="1.15" height="142.01" fill="#f23645" fill-opacity="0.88"/>
<rect x="721.34" y="164.85" width="3.8" height="79.53" fill="#f23645"/>
<rect x="727.25" y="236.80" width="1.15" height="35.03" fill="#f23645" fill-opacity="0.88"/>
<rect x="725.92" y="244.38" width="3.8" height="12.31" fill="#f23645"/>
<rect x="731.83" y="189.85" width="1.15" height="74.41" fill="#089981" fill-opacity="0.88"/>
<rect x="730.51" y="196.66" width="3.8" height="60.02" fill="#089981"/>
<rect x="736.42" y="185.76" width="1.15" height="26.38" fill="#089981" fill-opacity="0.88"/>
<rect x="735.10" y="193.90" width="3.8" height="1.99" fill="#089981"/>
</g>
<g transform="translate(737.1 583)"><circle r="7.6" fill="#fff" stroke="#9c27b0" stroke-width="1.3"/><path d="M2.4 -3.9 L-3.2 0.5 L-0.2 0.75 L-2.4 4.1 L3.2 -0.1 L0.3 -0.5 Z" fill="#9c27b0" stroke="#9c27b0" stroke-width="0.35" stroke-linejoin="round"/></g>
<g font-size="9.3" fill="#1c202b" stroke="#1c202b" stroke-width="0.12">
<text x="792.8" y="74.10" textLength="39.3" lengthAdjust="spacingAndGlyphs">5,000.00</text>
<text x="792.8" y="103.67" textLength="39.3" lengthAdjust="spacingAndGlyphs">4,800.00</text>
<text x="792.8" y="133.24" textLength="39.3" lengthAdjust="spacingAndGlyphs">4,600.00</text>
<text x="792.8" y="162.81" textLength="39.3" lengthAdjust="spacingAndGlyphs">4,400.00</text>
<text x="792.8" y="192.38" textLength="39.3" lengthAdjust="spacingAndGlyphs">4,200.00</text>
<text x="792.8" y="221.95" textLength="39.3" lengthAdjust="spacingAndGlyphs">4,000.00</text>
<text x="792.8" y="251.52" textLength="39.3" lengthAdjust="spacingAndGlyphs">3,800.00</text>
<text x="792.8" y="281.09" textLength="39.3" lengthAdjust="spacingAndGlyphs">3,600.00</text>
<text x="792.8" y="310.66" textLength="39.3" lengthAdjust="spacingAndGlyphs">3,400.00</text>
<text x="792.8" y="340.23" textLength="39.3" lengthAdjust="spacingAndGlyphs">3,200.00</text>
<text x="792.8" y="369.80" textLength="39.3" lengthAdjust="spacingAndGlyphs">3,000.00</text>
<text x="792.8" y="399.37" textLength="39.3" lengthAdjust="spacingAndGlyphs">2,800.00</text>
<text x="792.8" y="428.94" textLength="39.3" lengthAdjust="spacingAndGlyphs">2,600.00</text>
<text x="792.8" y="458.51" textLength="39.3" lengthAdjust="spacingAndGlyphs">2,400.00</text>
<text x="792.8" y="488.08" textLength="39.3" lengthAdjust="spacingAndGlyphs">2,200.00</text>
<text x="792.8" y="517.65" textLength="39.3" lengthAdjust="spacingAndGlyphs">2,000.00</text>
<text x="792.8" y="547.22" textLength="39.3" lengthAdjust="spacingAndGlyphs">1,800.00</text>
<text x="792.8" y="576.79" textLength="39.3" lengthAdjust="spacingAndGlyphs">1,600.00</text>
</g>
<rect x="788.5" y="23.5" width="49" height="20" rx="3.5" fill="#fff" stroke="#f1f2f4" stroke-width="1"/>
<text x="795.8" y="36.7" font-size="9.2" fill="#1c202b" stroke="#1c202b" stroke-width="0.15" textLength="24" lengthAdjust="spacingAndGlyphs">USDT</text>
<rect x="786" y="188.2" width="50.3" height="23" rx="2" fill="#089981"/>
<text x="792.5" y="197.1" font-size="9.4" fill="#fff" textLength="39" lengthAdjust="spacingAndGlyphs">4,165.71</text>
<text x="792.5" y="207.5" font-size="9.4" fill="#fff" fill-opacity="0.8" textLength="39" lengthAdjust="spacingAndGlyphs">06:49:19</text>
<rect x="785.8" y="543.8" width="49" height="12.8" rx="2" fill="#26a69a"/>
<text x="792.9" y="553.4" font-size="9.2" fill="#fff" textLength="37.6" lengthAdjust="spacingAndGlyphs">489.51 K</text>
<g font-size="9.4" font-weight="700" fill="#131722" text-anchor="middle">
<text x="122.34" y="607.3">Jun</text>
<text x="259.95" y="607.3">Jul</text>
<text x="402.14" y="607.3">Aug</text>
<text x="544.34" y="607.3">Sep</text>
<text x="681.95" y="607.3">Oct</text>
</g>
<text x="8" y="14.8" font-size="9.6" fill="#131722" stroke="#131722" stroke-width="0.2" textLength="238" lengthAdjust="spacingAndGlyphs">Created with TradingView.com, Oct 13, 2025 17:10 UTC</text>
<g font-size="9.5">
<text x="13.6" y="36.2" fill="#131722" stroke="#131722" stroke-width="0.22" textLength="150" lengthAdjust="spacingAndGlyphs">Ethereum / TetherUS · 1D · Binance</text>
<text x="169.9" y="36.2" fill="#131722" stroke="#131722" stroke-width="0.22" textLength="6.4" lengthAdjust="spacingAndGlyphs">O</text>
<text x="176.8" y="36.2" fill="#26a69a" stroke="#26a69a" stroke-width="0.22" textLength="37" lengthAdjust="spacingAndGlyphs">4,152.29</text>
<text x="219.4" y="36.2" fill="#131722" stroke="#131722" stroke-width="0.22" textLength="6" lengthAdjust="spacingAndGlyphs">H</text>
<text x="225.8" y="36.2" fill="#26a69a" stroke="#26a69a" stroke-width="0.22" textLength="38.4" lengthAdjust="spacingAndGlyphs">4,220.89</text>
<text x="270.4" y="36.2" fill="#131722" stroke="#131722" stroke-width="0.22">L</text>
<text x="275.6" y="36.2" fill="#26a69a" stroke="#26a69a" stroke-width="0.22" textLength="38" lengthAdjust="spacingAndGlyphs">4,042.29</text>
<text x="319.4" y="36.2" fill="#131722" stroke="#131722" stroke-width="0.22" textLength="6.4" lengthAdjust="spacingAndGlyphs">C</text>
<text x="326.4" y="36.2" fill="#26a69a" stroke="#26a69a" stroke-width="0.22" textLength="34.9" lengthAdjust="spacingAndGlyphs">4,165.71</text>
<text x="366.4" y="36.2" fill="#26a69a" stroke="#26a69a" stroke-width="0.22" textLength="72.3" lengthAdjust="spacingAndGlyphs">+13.42 (+0.32%)</text>
<text x="13.6" y="49.0" fill="#131722" stroke="#131722" stroke-width="0.22" textLength="39.6" lengthAdjust="spacingAndGlyphs">Vol · ETH</text>
<text x="58.9" y="49.0" fill="#26a69a" stroke="#26a69a" stroke-width="0.22" textLength="36.4" lengthAdjust="spacingAndGlyphs">489.51K</text>
</g>
<g transform="translate(9 628.7) scale(0.635 0.6)" fill="#0f1116"><path d="M14 22H7V11H0V4h14v18zM28 22h-8l7.5-18h8L28 22z"/><circle cx="20" cy="8" r="4"/></g>
<text x="37.7" y="641.8" font-size="14.6" font-weight="700" fill="#0f1116" textLength="91.5" lengthAdjust="spacingAndGlyphs">TradingView</text>
</svg></body></html>
